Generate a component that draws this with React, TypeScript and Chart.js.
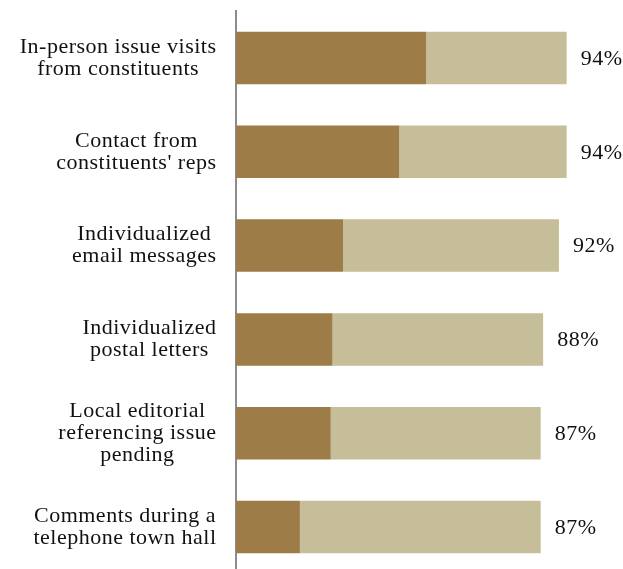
import React, { useEffect, useRef } from "react";
import { Chart, registerables } from "chart.js";

Chart.register(...registerables);

const categories: string[][] = [
  ["In-person issue visits", "from constituents"],
  ["Contact from", "constituents' reps"],
  ["Individualized", "email messages"],
  ["Individualized", "postal letters"],
  ["Local editorial", "referencing issue", "pending"],
  ["Comments during a", "telephone town hall"],
];
const darkValues = [54.2, 46.5, 30.5, 27.5, 27, 18.2];
const lightValues = [40, 47.7, 61.5, 60, 59.8, 68.6];
const totalLabels = ["94%", "94%", "92%", "88%", "87%", "87%"];

const DARK = "#9d7c48";
const LIGHT = "#c5be99";
const FONT = "22px 'Liberation Serif', 'Times New Roman', serif";

const labelPlugin = {
  id: "customLabels",
  afterDraw(chart: any) {
    const ctx = chart.ctx;
    const y = chart.scales.y;
    const x = chart.scales.x;
    ctx.save();
    ctx.font = FONT;
    (ctx as any).letterSpacing = "0.5px";
    ctx.fillStyle = "#111";
    ctx.textBaseline = "middle";
    const lineH = 22;
    const right = chart.chartArea.left - 20;
    categories.forEach((lines, i) => {
      const cy = y.getPixelForValue(i);
      const widths = lines.map((l) => ctx.measureText(l).width - 0.5);
      const maxW = Math.max(...widths);
      const cx = right - maxW / 2;
      ctx.textAlign = "left";
      lines.forEach((l, k) => {
        const ly = cy + (k - (lines.length - 1) / 2) * lineH;
        ctx.fillText(l, cx - widths[k] / 2, ly);
      });
      const endX = x.getPixelForValue(darkValues[i] + lightValues[i]);
      ctx.fillText(totalLabels[i], endX + 14, cy + 1);
    });
    ctx.restore();
  },
};

export default function App() {
  const ref = useRef<HTMLCanvasElement | null>(null);
  useEffect(() => {
    if (!ref.current) return;
    const chart = new Chart(ref.current, {
      type: "bar",
      data: {
        labels: categories.map((c) => c.join(" ")),
        datasets: [
          { data: darkValues, backgroundColor: DARK, borderWidth: 0 },
          { data: lightValues, backgroundColor: LIGHT, borderWidth: 0 },
        ],
      },
      options: {
        indexAxis: "y",
        responsive: false,
        animation: false,
        layout: { padding: { top: 11, right: 36, left: 0, bottom: 0 } },
        datasets: { bar: { barPercentage: 0.56, categoryPercentage: 1 } },
        plugins: { legend: { display: false }, tooltip: { enabled: false } },
        scales: {
          x: { display: false, stacked: true, min: 0, max: 100 },
          y: {
            stacked: true,
            ticks: { display: false },
            grid: { display: false, drawTicks: false },
            border: { display: true, color: "#8c8c8c", width: 2 },
            afterFit(s: any) {
              s.width = 236;
            },
          },
        },
      } as any,
      plugins: [labelPlugin],
    });
    return () => chart.destroy();
  }, []);
  return (
    <div
      style={{
        position: "fixed",
        left: 0,
        top: 0,
        width: 623,
        height: 569,
        overflow: "hidden",
        background: "#fff",
      }}
    >
      <canvas ref={ref} width={623} height={574} style={{ display: "block" }} />
    </div>
  );
}
